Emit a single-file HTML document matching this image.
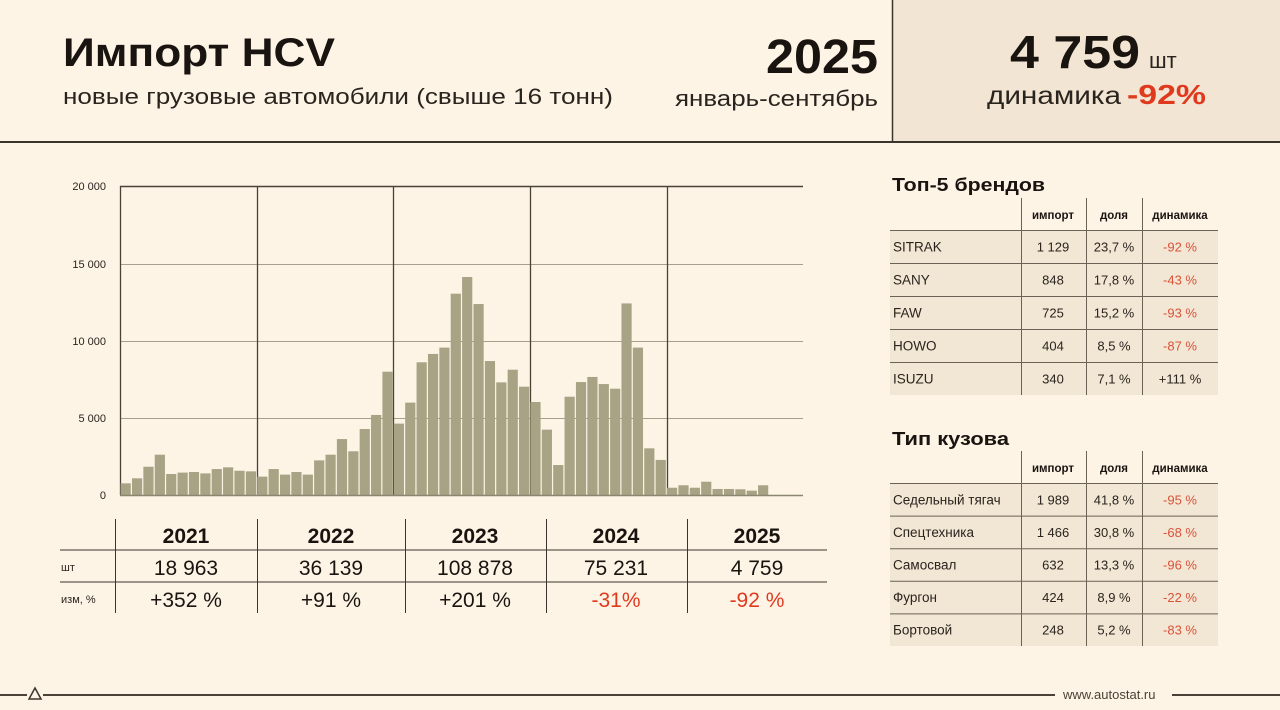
<!DOCTYPE html>
<html><head><meta charset="utf-8"><style>
html,body{margin:0;padding:0;background:#fdf4e6;}
svg{display:block;font-family:"Liberation Sans","DejaVu Sans",sans-serif;}
</style></head><body>
<svg id="s" width="1280" height="710" viewBox="0 0 1280 710" xmlns="http://www.w3.org/2000/svg">
<rect width="1280" height="710" fill="#fdf4e6"/>
<rect x="893" y="0" width="387" height="141" fill="#f3e5d3"/>
<line x1="892.5" y1="0" x2="892.5" y2="141" stroke="#3a342c" stroke-width="1.5"/>
<line x1="0" y1="142" x2="1280" y2="142" stroke="#3a342c" stroke-width="2"/>
<text x="63" y="66" font-size="40" font-weight="bold" fill="#1a1410" textLength="272" lengthAdjust="spacingAndGlyphs">Импорт HCV</text>
<text x="63" y="104" font-size="22" fill="#2a241e" textLength="550" lengthAdjust="spacingAndGlyphs">новые грузовые автомобили (свыше 16 тонн)</text>
<text x="766" y="73" font-size="48" font-weight="bold" fill="#1a1410" textLength="112" lengthAdjust="spacingAndGlyphs">2025</text>
<text x="675" y="106" font-size="22" fill="#2a241e" textLength="203" lengthAdjust="spacingAndGlyphs">январь-сентябрь</text>
<text x="1010" y="68" font-size="46" font-weight="bold" fill="#1a1410" textLength="130" lengthAdjust="spacingAndGlyphs">4 759</text>
<text x="1149" y="68" font-size="22" fill="#2a241e">шт</text>
<text x="987" y="104" font-size="25" fill="#2a241e" textLength="134" lengthAdjust="spacingAndGlyphs">динамика</text>
<text x="1127" y="104" font-size="28" font-weight="bold" fill="#e03a1e" textLength="79" lengthAdjust="spacingAndGlyphs">-92%</text>

<g id="chart"></g>

<g font-size="11" fill="#2a241e" text-anchor="end">
<text x="106" y="190">20 000</text><text x="106" y="268">15 000</text><text x="106" y="345">10 000</text><text x="106" y="422">5 000</text><text x="106" y="499">0</text>
</g>

<!-- bottom table -->
<g stroke="#3a342c" stroke-width="1">
<line x1="60" y1="550" x2="827" y2="550"/><line x1="60" y1="582" x2="827" y2="582"/>
<line x1="115.5" y1="519" x2="115.5" y2="613"/><line x1="257.5" y1="519" x2="257.5" y2="613"/>
<line x1="405.5" y1="519" x2="405.5" y2="613"/><line x1="546.5" y1="519" x2="546.5" y2="613"/>
<line x1="687.5" y1="519" x2="687.5" y2="613"/>
</g>
<g font-size="21" fill="#1a1410" text-anchor="middle">
<g font-weight="bold"><text x="186" y="543">2021</text><text x="331" y="543">2022</text><text x="475" y="543">2023</text><text x="616" y="543">2024</text><text x="757" y="543">2025</text></g>
<text x="186" y="575">18 963</text><text x="331" y="575">36 139</text><text x="475" y="575">108 878</text><text x="616" y="575">75 231</text><text x="757" y="575">4 759</text>
<text x="186" y="607">+352 %</text><text x="331" y="607">+91 %</text><text x="475" y="607">+201 %</text><text x="616" y="607" fill="#e03a1e">-31%</text><text x="757" y="607" fill="#e03a1e">-92 %</text>
</g>
<text x="61" y="571" font-size="11" fill="#2a241e">шт</text>
<text x="61" y="603" font-size="11" fill="#2a241e">изм, %</text>

<g id="tables"></g>

<!-- footer -->
<line x1="0" y1="695" x2="1055" y2="695" stroke="#4a4236" stroke-width="2"/>
<line x1="1172" y1="695" x2="1280" y2="695" stroke="#4a4236" stroke-width="2"/>
<rect x="27" y="686" width="16" height="16" fill="#fdf4e6"/>
<path d="M35 688 L41 699 L29 699 Z" fill="none" stroke="#3a342c" stroke-width="1.5"/>
<text x="1063" y="699" font-size="13" fill="#4a4236">www.autostat.ru</text>
</svg>
<script>
var NS="http://www.w3.org/2000/svg";
function el(p,t,a,txt){var e=document.createElementNS(NS,t);for(var k in a)e.setAttribute(k,a[k]);if(txt!==undefined)e.textContent=txt;p.appendChild(e);return e;}
var c=document.getElementById('chart');
[418,341,264].forEach(function(y){el(c,'line',{x1:120,y1:y+0.5,x2:803,y2:y+0.5,stroke:'#a89e8c','stroke-width':1});});
el(c,'line',{x1:120,y1:186.5,x2:803,y2:186.5,stroke:'#4a4236','stroke-width':1.5});
[120,257,393,530,667].forEach(function(x){el(c,'line',{x1:x+0.5,y1:186,x2:x+0.5,y2:495,stroke:'#4a4236','stroke-width':1.3});});
var v=[755,1080,1830,2610,1360,1450,1490,1400,1680,1790,1570,1530,
1190,1680,1320,1490,1320,2240,2610,3620,2830,4270,5180,7980,
4620,5980,8590,9130,9540,13030,14110,12360,8670,7290,8110,7010,
6020,4230,1940,6360,7310,7640,7180,6880,12400,9540,3020,2270,
470,630,470,860,390,390,370,280,630];
var slot=(803-120)/60;
v.forEach(function(d,i){var h=d*0.01545;el(c,'rect',{x:120+i*slot+0.6,y:495-h,width:slot-1.2,height:h,fill:'#a7a384'});});
el(c,'line',{x1:120,y1:495.5,x2:803,y2:495.5,stroke:'#8a8670','stroke-width':1.5});

var T=document.getElementById('tables');
function table(ty,title,tl,hy,rows,rowStart,rh){
 el(T,'text',{x:892,y:ty,'font-size':18,'font-weight':'bold',fill:'#1a1410',textLength:tl,lengthAdjust:'spacingAndGlyphs'},title);
 for(var r=0;r<rows.length;r++){var y=rowStart+r*rh;
  el(T,'rect',{x:890,y:y,width:328,height:rh,fill:'#f2e6d4'});
  el(T,'line',{x1:890,y1:y+0.5,x2:1218,y2:y+0.5,stroke:'#6a6254','stroke-width':1});
  var ry=y+rh/2+5;
  el(T,'text',{x:893,y:ry,'font-size':13.5,fill:'#2a241e'},rows[r][0]);
  el(T,'text',{x:1053,y:ry,'font-size':13,fill:'#2a241e','text-anchor':'middle'},rows[r][1]);
  el(T,'text',{x:1114,y:ry,'font-size':13,fill:'#2a241e','text-anchor':'middle'},rows[r][2]);
  el(T,'text',{x:1180,y:ry,'font-size':13,fill:rows[r][3][0]=='-'?'#d9533a':'#2a241e','text-anchor':'middle'},rows[r][3]);
 }
 [1021,1086,1142].forEach(function(x){el(T,'line',{x1:x+0.5,y1:hy,x2:x+0.5,y2:rowStart+rows.length*rh,stroke:'#6a6254','stroke-width':1});});
 var hty=(hy+rowStart)/2+5;
 el(T,'text',{x:1053,y:hty,'font-size':11.5,'font-weight':'bold',fill:'#1a1410','text-anchor':'middle'},'импорт');
 el(T,'text',{x:1114,y:hty,'font-size':11.5,'font-weight':'bold',fill:'#1a1410','text-anchor':'middle'},'доля');
 el(T,'text',{x:1180,y:hty,'font-size':11.5,'font-weight':'bold',fill:'#1a1410','text-anchor':'middle'},'динамика');
}
table(191,'Топ-5 брендов',153,198,[['SITRAK','1 129','23,7 %','-92 %'],['SANY','848','17,8 %','-43 %'],['FAW','725','15,2 %','-93 %'],['HOWO','404','8,5 %','-87 %'],['ISUZU','340','7,1 %','+111 %']],230,33);
table(445,'Тип кузова',117,451,[['Седельный тягач','1 989','41,8 %','-95 %'],['Спецтехника','1 466','30,8 %','-68 %'],['Самосвал','632','13,3 %','-96 %'],['Фургон','424','8,9 %','-22 %'],['Бортовой','248','5,2 %','-83 %']],483,32.6);
</script>
</body></html>
